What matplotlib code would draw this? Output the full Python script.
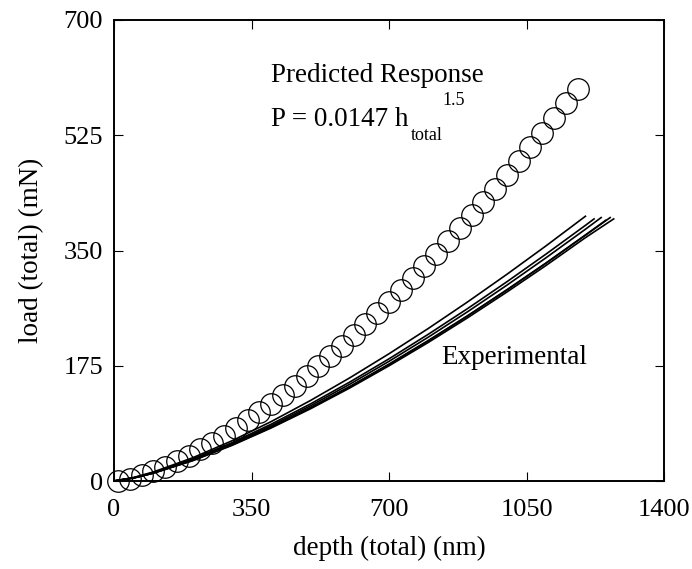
# Load vs depth: predicted power-law response against experimental loading curves.

import matplotlib.pyplot as plt

# predicted response P = 0.0147 h^1.5 (circles)
pred_depth = [10, 40, 70, 100, 130, 160, 190, 220, 250, 280,
              310, 340, 370, 400, 430, 460, 490, 520, 550, 580,
              610, 640, 670, 700, 730, 760, 790, 820, 850, 880,
              910, 940, 970, 1000, 1030, 1060, 1090, 1120, 1150, 1180]
pred_load = [0.5, 3.7, 8.6, 14.7, 21.8, 29.8, 38.5, 48.0, 58.1, 68.9,
             80.2, 92.2, 104.6, 117.6, 131.1, 145.0, 159.4, 174.3, 189.6, 205.3,
             221.5, 238.0, 254.9, 272.2, 289.9, 308.0, 326.4, 345.2, 364.3, 383.7,
             403.5, 423.7, 444.1, 464.9, 485.9, 507.3, 529.0, 551.0, 573.3, 595.9]

# experimental loading curves (six tests)
exp_depth_a = [0, 50, 100, 200, 300, 400, 500, 600, 700, 800, 900, 1000, 1100, 1200]
exp_load_a = [0, 5.3, 13.7, 35.2, 61.0, 90.2, 122.2, 156.6, 193.2, 231.6, 271.9, 313.8, 357.2, 402]

exp_depth_b = [0, 50, 100, 200, 300, 400, 500, 600, 700, 800, 900, 1000, 1100, 1200, 1222]
exp_load_b = [0, 5.0, 12.9, 33.3, 58.1, 86.2, 117.0, 150.2, 185.5, 222.8, 261.8, 302.5, 344.7, 388.2, 398]

exp_depth_c = [0, 50, 100, 200, 300, 400, 500, 600, 700, 800, 900, 1000, 1100, 1200, 1240]
exp_load_c = [0, 4.8, 12.4, 32.3, 56.4, 83.9, 114.2, 146.9, 181.7, 218.4, 257.0, 297.3, 339.1, 382.3, 400]

exp_depth_d = [0, 50, 100, 200, 300, 400, 500, 600, 700, 800, 900, 1000, 1100, 1200, 1252]
exp_load_d = [0, 4.7, 12.1, 31.5, 55.1, 82.0, 111.6, 143.5, 177.5, 213.4, 251.0, 290.4, 331.2, 373.6, 396]

exp_depth_e = [0, 50, 100, 200, 300, 400, 500, 600, 700, 800, 900, 1000, 1100, 1200, 1263]
exp_load_e = [0, 4.6, 11.9, 31.1, 54.6, 81.4, 110.9, 142.8, 176.8, 212.7, 250.5, 289.9, 330.8, 373.2, 400]

exp_depth_f = [0, 50, 100, 200, 300, 400, 500, 600, 700, 800, 900, 1000, 1100, 1200, 1272]
exp_load_f = [0, 4.5, 11.8, 30.8, 54.0, 80.5, 109.6, 141.2, 174.9, 210.4, 247.8, 286.9, 327.4, 369.5, 398]

x_ticks = [0, 350, 700, 1050, 1400]
y_ticks = [0, 175, 350, 525, 700]


def main():
    plt.rcParams['font.family'] = ['Liberation Serif', 'DejaVu Serif']

    fig = plt.figure(figsize=(6.92, 5.69), dpi=100)
    ax = fig.add_axes([114 / 692, 88 / 569, 550 / 692, 461 / 569])

    curves = [(exp_depth_a, exp_load_a), (exp_depth_b, exp_load_b),
              (exp_depth_c, exp_load_c), (exp_depth_d, exp_load_d),
              (exp_depth_e, exp_load_e), (exp_depth_f, exp_load_f)]
    for d, p in curves:
        ax.plot(d, p, color='black', linewidth=1.2)

    ax.plot(pred_depth, pred_load, linestyle='none', marker='o', markersize=15.5,
            markerfacecolor='none', markeredgecolor='black', markeredgewidth=0.9,
            clip_on=False)

    ax.set_xlim(0, 1400)
    ax.set_ylim(0, 700)
    ax.set_xticks(x_ticks)
    ax.set_yticks(y_ticks)
    ax.tick_params(direction='in', length=6.5, width=0.8, top=True, right=True,
                   labelsize=19, pad=8)
    ax.tick_params(axis='x', pad=13)
    for s in ax.spines.values():
        s.set_linewidth(1.4)

    ax.set_xlabel('depth (total) (nm)', fontsize=19.5, labelpad=11)
    ax.set_ylabel('load (total) (mN)', fontsize=19.5, labelpad=14)

    ax.text(400, 606, 'Predicted Response', fontsize=19.5, va='baseline')
    ax.text(400, 539, 'P = 0.0147 h', fontsize=19.5, va='baseline')
    ax.text(756, 518, 'total', fontsize=13, va='baseline')
    ax.text(837, 571, '1.5', fontsize=13, va='baseline')
    ax.text(832, 178, 'Experimental', fontsize=19.5, va='baseline')

    fig.savefig('out.png', dpi=100)


if __name__ == "__main__":
    main()
